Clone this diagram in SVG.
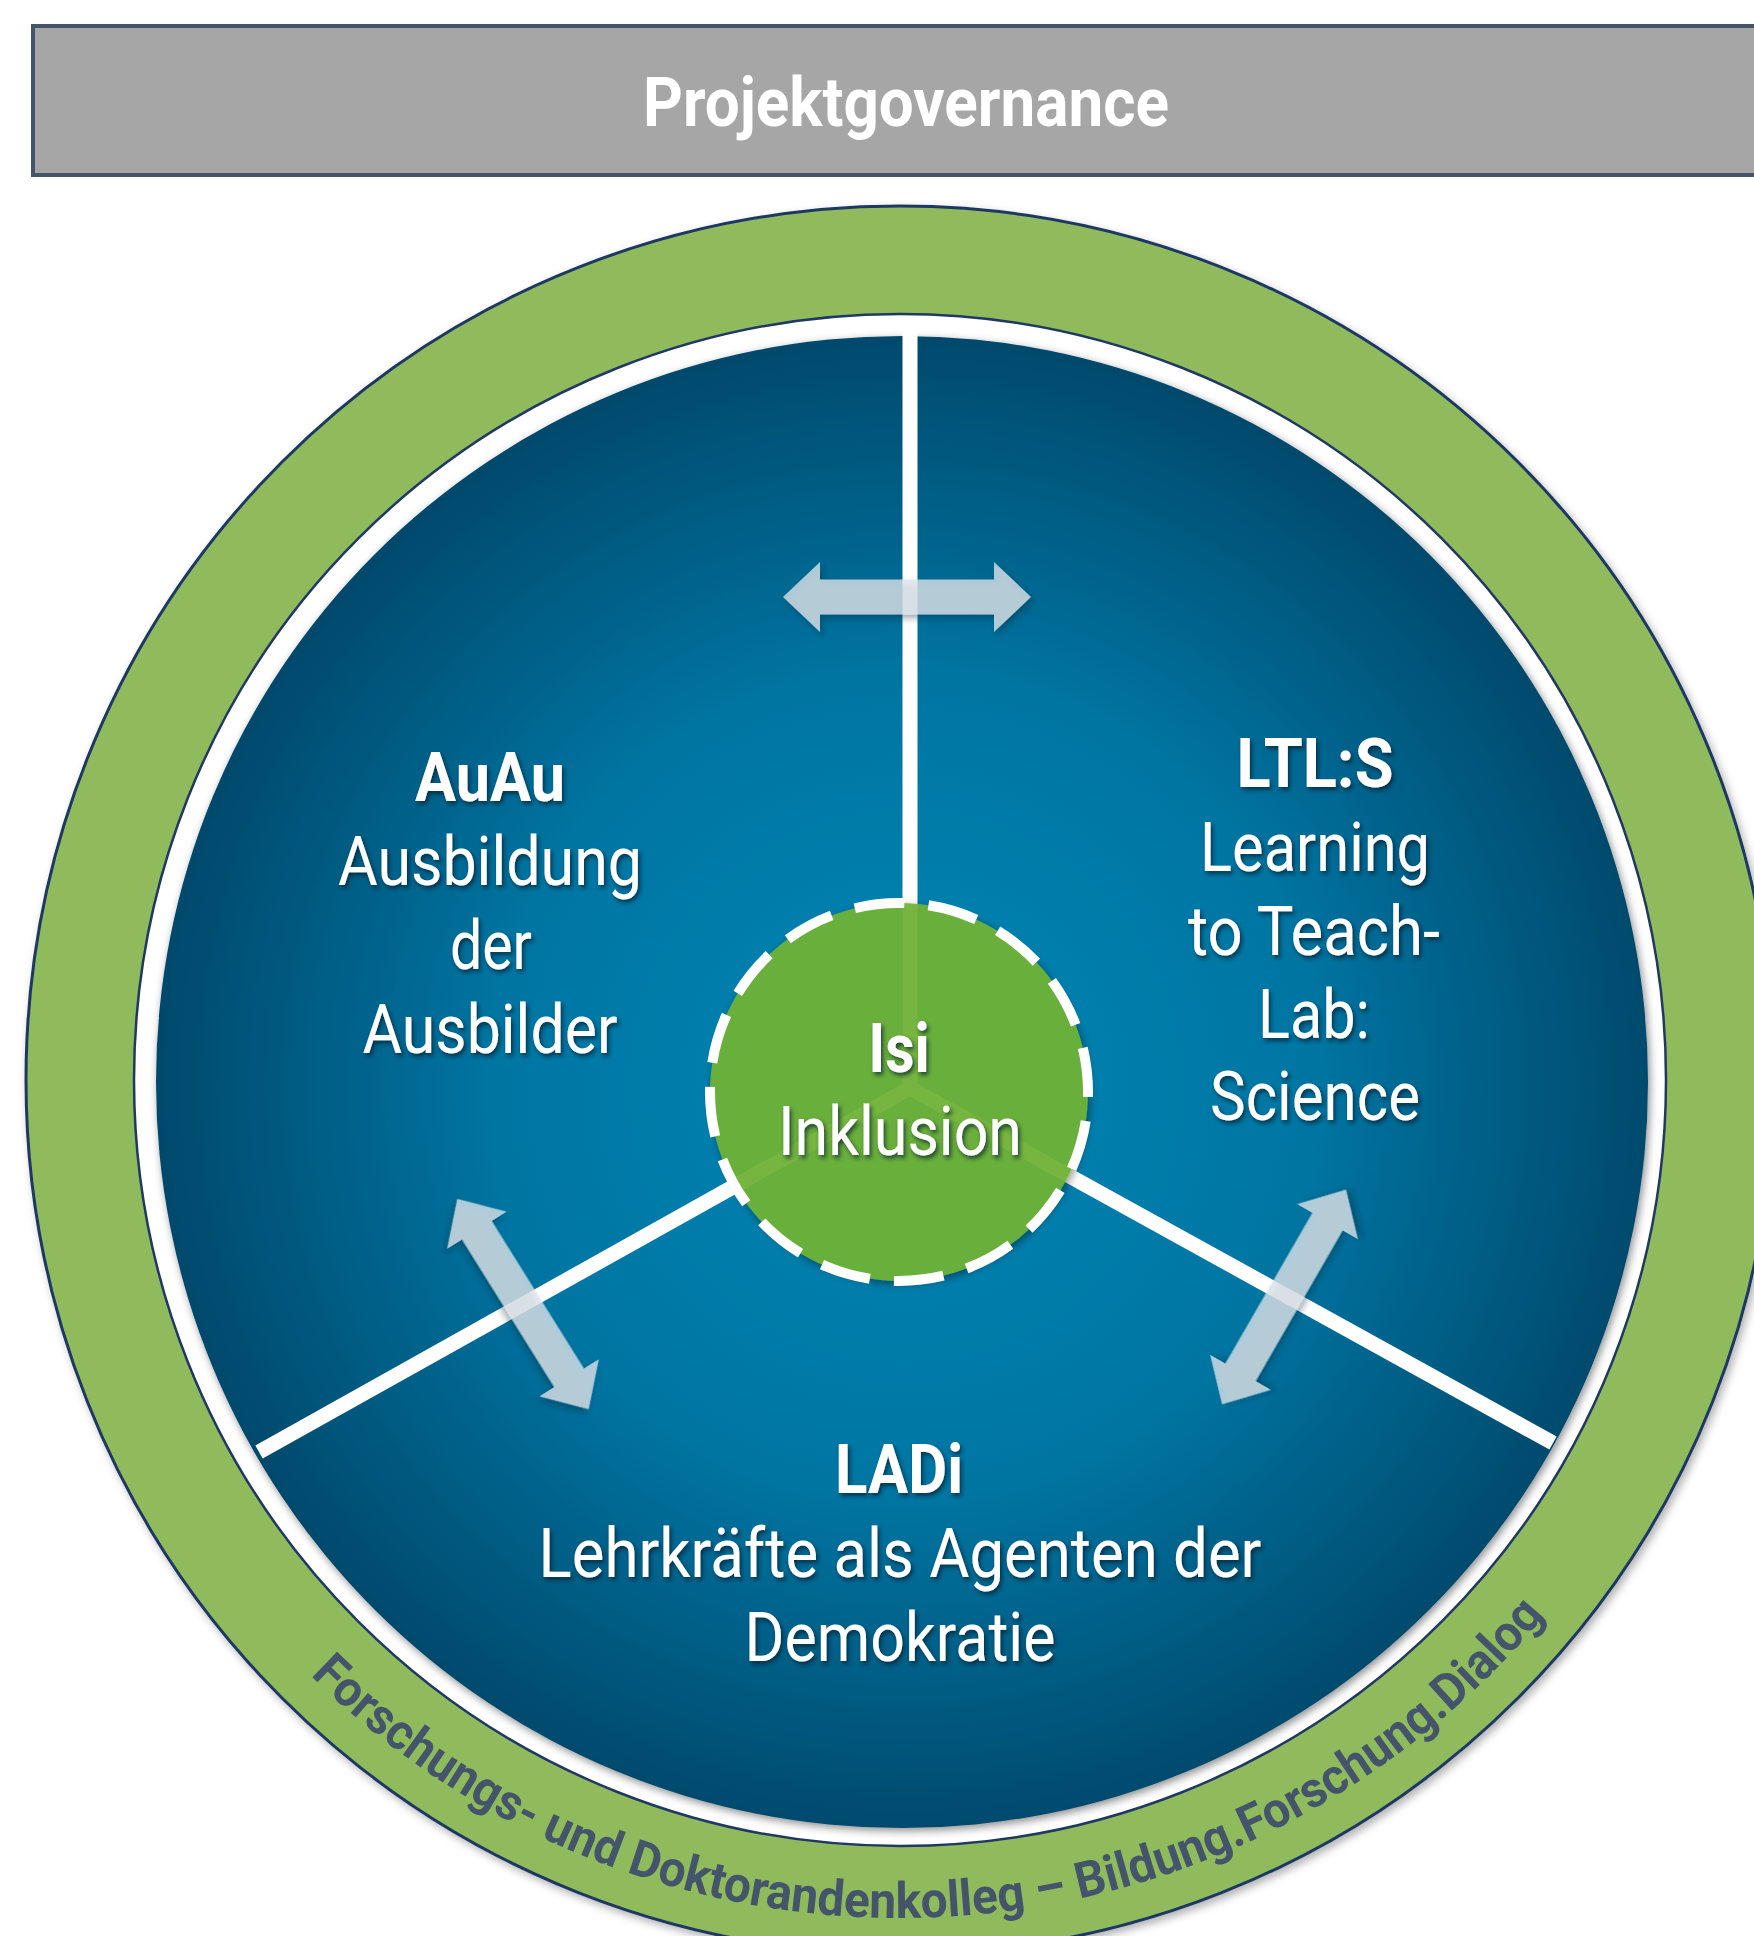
<svg xmlns="http://www.w3.org/2000/svg" xmlns:xlink="http://www.w3.org/1999/xlink" width="1754" height="1936" viewBox="0 0 1754 1936">
<style>
.lbl{font-family:Roboto,"Liberation Sans",Arial,sans-serif;fill:#ffffff;font-size:69px;text-anchor:middle;filter:url(#ts)}
.b{font-weight:700}
.r{font-weight:400}
.arrow{fill:#dde4ea;fill-opacity:0.78;filter:url(#as)}
.div{stroke:#ffffff;stroke-width:15;stroke-linecap:butt;fill:none}
.ring{font-family:Roboto,"Liberation Sans",Arial,sans-serif;font-weight:700;font-size:50px;fill:#44546a}
</style>
<defs>
<radialGradient id="blue" cx="905" cy="1085" r="745" gradientUnits="userSpaceOnUse">
<stop offset="0" stop-color="#0686b6"/>
<stop offset="0.55" stop-color="#0075a2"/>
<stop offset="1" stop-color="#004a6d"/>
</radialGradient>
<filter id="ts" x="-10%" y="-20%" width="125%" height="150%">
<feDropShadow dx="2" dy="3" stdDeviation="2" flood-color="#001a2a" flood-opacity="0.7"/>
</filter>
<filter id="as" x="-20%" y="-30%" width="150%" height="170%">
<feDropShadow dx="3" dy="4" stdDeviation="3" flood-color="#002033" flood-opacity="0.45"/>
</filter>
<filter id="ds" x="-10%" y="-10%" width="120%" height="120%">
<feDropShadow dx="2" dy="3" stdDeviation="4" flood-color="#000000" flood-opacity="0.45"/>
</filter>
<filter id="gs" x="-5%" y="-5%" width="110%" height="110%">
<feDropShadow dx="3" dy="4" stdDeviation="4" flood-color="#000000" flood-opacity="0.3"/>
</filter>
<path id="ringPath" d="M 62 1080 A 838 838 0 0 0 1738 1080"/>
</defs>

<g id="projektgovernance">
<rect x="33" y="26" width="1760" height="149" fill="#a6a6a6" stroke="#44546a" stroke-width="4"/>
<text x="906" y="126" class="lbl b" textLength="526" lengthAdjust="spacingAndGlyphs" style="filter:none">Projektgovernance</text>
</g>

<g id="kolleg-ring">
<circle cx="900" cy="1080" r="874" fill="#8fbb5c" stroke="#1f3864" stroke-width="3" filter="url(#gs)"/>
<circle cx="900" cy="1080" r="766" fill="#ffffff" stroke="#1f3864" stroke-width="2.5"/>
<text class="ring" textLength="1390" lengthAdjust="spacingAndGlyphs"><textPath xlink:href="#ringPath" href="#ringPath" startOffset="1357" text-anchor="middle">Forschungs- und Doktorandenkolleg – Bildung.Forschung.Dialog</textPath></text>
</g>

<g id="disk">
<circle cx="902" cy="1082" r="746" fill="url(#blue)" filter="url(#ds)"/>
<line class="div" x1="910" y1="330" x2="910" y2="1088"/>
<line class="div" x1="910" y1="1088" x2="259" y2="1452"/>
<line class="div" x1="910" y1="1088" x2="1553" y2="1443"/>
</g>

<g id="auau">
<text x="490" y="801" class="lbl b" textLength="150" lengthAdjust="spacingAndGlyphs">AuAu</text>
<text x="490" y="885" class="lbl r" textLength="304" lengthAdjust="spacingAndGlyphs">Ausbildung</text>
<text x="491" y="969" class="lbl r" textLength="82" lengthAdjust="spacingAndGlyphs">der</text>
<text x="490" y="1053" class="lbl r" textLength="255" lengthAdjust="spacingAndGlyphs">Ausbilder</text>
</g>

<g id="ltls">
<text x="1315" y="787" class="lbl b" textLength="157" lengthAdjust="spacingAndGlyphs">LTL:S</text>
<text x="1315" y="871" class="lbl r" textLength="230" lengthAdjust="spacingAndGlyphs">Learning</text>
<text x="1314" y="955" class="lbl r" textLength="252" lengthAdjust="spacingAndGlyphs">to Teach-</text>
<text x="1314" y="1038" class="lbl r" textLength="112" lengthAdjust="spacingAndGlyphs">Lab:</text>
<text x="1315" y="1120" class="lbl r" textLength="210" lengthAdjust="spacingAndGlyphs">Science</text>
</g>

<g id="ladi">
<text x="899" y="1493" class="lbl b" textLength="128" lengthAdjust="spacingAndGlyphs">LADi</text>
<text x="900" y="1577" class="lbl r" textLength="723" lengthAdjust="spacingAndGlyphs">Lehrkräfte als Agenten der</text>
<text x="900" y="1661" class="lbl r" textLength="311" lengthAdjust="spacingAndGlyphs">Demokratie</text>
</g>

<g id="isi">
<circle cx="899" cy="1092" r="189" fill="#70b437" fill-opacity="0.92" filter="url(#ds)"/>
<circle cx="899" cy="1092" r="189" fill="none" stroke="#ffffff" stroke-width="10" stroke-dasharray="50 24.22" stroke-dashoffset="45"/>
<text x="899" y="1072" class="lbl b" textLength="61" lengthAdjust="spacingAndGlyphs">Isi</text>
<text x="900" y="1155" class="lbl r" textLength="244" lengthAdjust="spacingAndGlyphs">Inklusion</text>
</g>

<g id="connectors">
<path class="arrow" transform="translate(907 597)" d="M -124 0 L -87 -35 L -87 -17.5 L 87 -17.5 L 87 -35 L 124 0 L 87 35 L 87 17.5 L -87 17.5 L -87 35 Z"/>
<path class="arrow" transform="translate(523 1304) rotate(58)" d="M -124 0 L -87 -35 L -87 -17.5 L 87 -17.5 L 87 -35 L 124 0 L 87 35 L 87 17.5 L -87 17.5 L -87 35 Z"/>
<path class="arrow" transform="translate(1284 1297) rotate(-60)" d="M -124 0 L -87 -35 L -87 -17.5 L 87 -17.5 L 87 -35 L 124 0 L 87 35 L 87 17.5 L -87 17.5 L -87 35 Z"/>
</g>
</svg>
